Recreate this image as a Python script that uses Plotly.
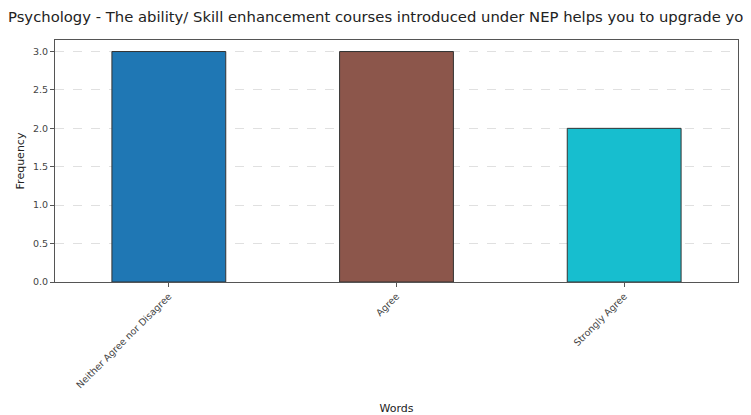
import plotly.graph_objects as go

categories = ["Neither Agree nor Disagree", "Agree", "Strongly Agree"]
values = [3, 3, 2]
colors = ["#1f77b4", "#8c564b", "#17becf"]
title = "Psychology - The ability/ Skill enhancement courses introduced under NEP helps you to upgrade your skills"

fig = go.Figure(go.Bar(
    x=categories, y=values, width=0.5,
    marker=dict(color=colors, line=dict(color="#333333", width=1)),
))

fig.update_layout(
    width=751, height=415,
    margin=dict(l=47, r=21, t=32, b=141),
    paper_bgcolor="white", plot_bgcolor="white",
    font=dict(family="DejaVu Sans", color="#222222"),
    title=dict(text=title, x=0.0, xanchor="left", y=0.978, yanchor="middle",
               xref="container",
               font=dict(size=14.8, family="DejaVu Sans", color="#222222")),
    showlegend=False,
)
fig.update_xaxes(
    range=[-0.5, 2.5], tickangle=-45, tickfont=dict(size=9.5, color="#444444"),
    showline=True, linecolor="#555555", linewidth=1, mirror=True,
    ticks="outside", ticklen=4, tickcolor="#555555",
    title=dict(text="Words", font=dict(size=11), standoff=14),
    showgrid=False,
)
fig.update_yaxes(
    range=[0, 3.15], dtick=0.5, tickformat=".1f", tickfont=dict(size=9.5, color="#444444"),
    showline=True, linecolor="#555555", linewidth=1, mirror=True,
    ticks="outside", ticklen=4, tickcolor="#555555",
    title=dict(text="Frequency", font=dict(size=11), standoff=6),
    showgrid=True, gridcolor="#e0e0e0", griddash="dash", gridwidth=1,
    zeroline=False,
)
fig.write_html("out.html")
